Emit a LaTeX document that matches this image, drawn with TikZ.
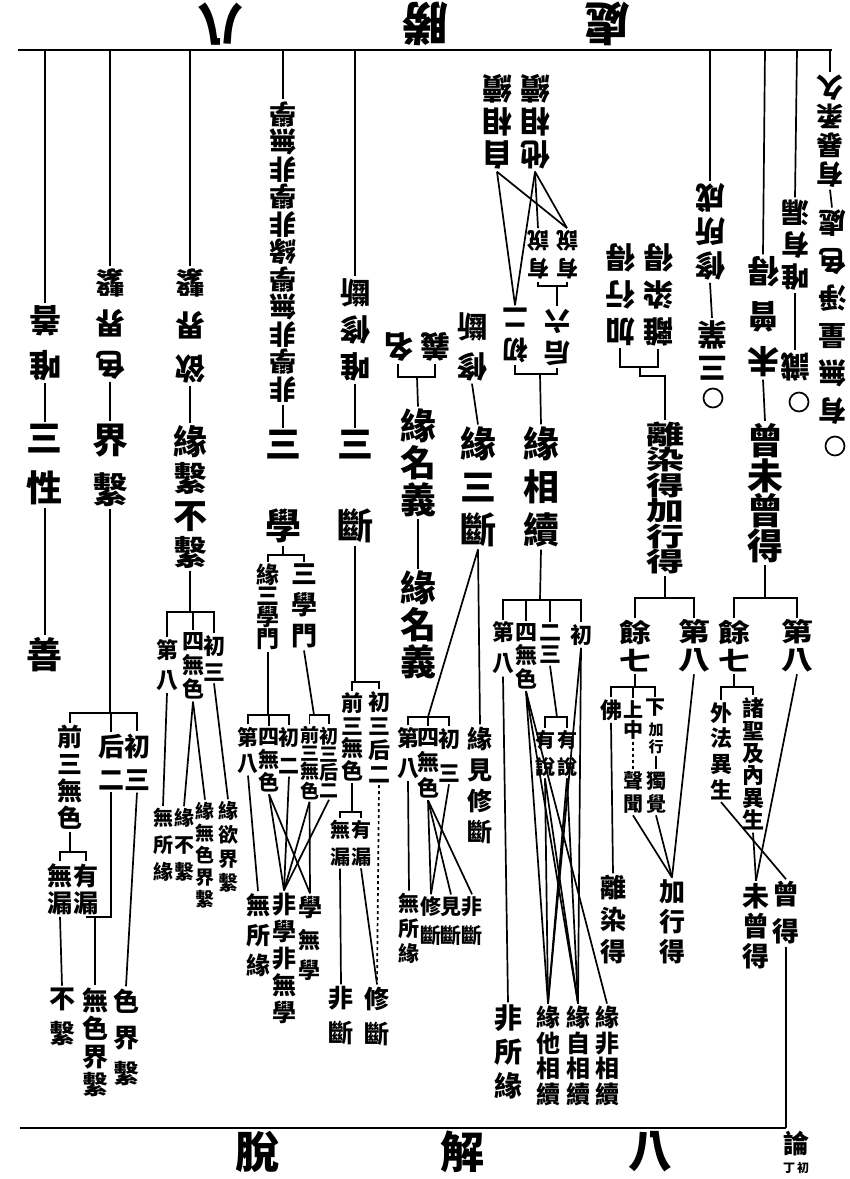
\documentclass[tikz,border=0pt]{standalone}
\usepackage{fontspec}
\newfontfamily\cjk{Noto Sans CJK TC}
\begin{document}
\begin{tikzpicture}[x=1pt,y=-1pt,line width=1.7pt]
\tikzset{
 lab/.style={font=\cjk\bfseries, align=center, inner sep=1.5pt},
 fs/.style 2 args={font={\cjk\bfseries\fontsize{#1}{#2}\selectfont}},
 upd/.style={rotate=180},
 ring/.style={circle, draw, minimum size=19pt, inner sep=0pt},
}
\fill[white] (0,0) rectangle (850,1179);
\useasboundingbox (0,0) rectangle (850,1179);

% title (upside down)
\node[lab,fs={46}{46},upd] (tt1) at (220,24) {八};
\node[lab,fs={46}{46},upd] (tt2) at (425,24) {勝};
\node[lab,fs={46}{46},upd] (tt3) at (607,24) {處};

% top line
\coordinate (TL) at (18,50);
\coordinate (TR) at (832,50);
\draw (TL) -- (TR);

% ---------- A : san xing
\coordinate (tA) at (45,50);
\node[lab,fs={32}{45},upd] (A1) at (45,343) {唯\\善};
\node[lab,fs={36}{50}] (A2) at (45,465) {三\\性};
\node[lab,fs={36}{40}] (A3) at (45,655) {善};
\draw (tA) -- (A1.south);
\draw (A1.north) -- (A2.north);
\draw (A2.south) -- (A3.north);

% ---------- B : jie xi
\coordinate (tB) at (110,50);
\node[lab,fs={30}{41},upd] (B1) at (110,324) {色\\界\\繫};
\node[lab,fs={36}{50}] (B2) at (110,465) {界\\繫};
\draw (tB) -- (B1.south);
\draw (B1.north) -- (B2.north);
\coordinate (jB) at (110,713);
\node[lab,fs={25}{27}] (B3) at (70,777) {前\\三\\無\\色};
\node[lab,fs={26}{33}] (B4) at (111,762) {后\\二};
\node[lab,fs={26}{33}] (B5) at (137,762) {初\\三};
\draw (B2.south) -- (B2.south |- jB);
\draw (B3.north) |- (jB) -| (B5.north);
\draw (B4.north) -- (B4.north |- jB);
\coordinate (jB2) at (70,852);
\node[lab,fs={25}{27}] (B6) at (60,889) {無\\漏};
\node[lab,fs={25}{27}] (B7) at (86,889) {有\\漏};
\draw (B3.south) -- (B3.south |- jB2);
\draw (B6.north) |- (jB2) -| (B7.north);
\node[lab,fs={26}{35}] (B8) at (62,1017) {不\\繫};
\node[lab,fs={26}{28}] (B9) at (95,1042) {無\\色\\界\\繫};
\node[lab,fs={26}{36}] (B10) at (126,1037) {色\\界\\繫};
\draw (B6.south) -- (B8.north);
\draw (B4.south) |- (B7.south);
\draw (B9.north) -- (B9.north |- B7.south);
\draw (B5.south) -- (B10.north);

% ---------- C : yuan xi bu xi
\coordinate (tC) at (190,50);
\node[lab,fs={30}{43},upd] (C1) at (190,326) {欲\\界\\繫};
\node[lab,fs={34}{37}] (C2) at (190,497) {緣\\繫\\不\\繫};
\draw (tC) -- (C1.south);
\draw (C1.north) -- (C2.north);
\coordinate (jC) at (192,612);
\node[lab,fs={22}{30}] (C3) at (167,665) {第\\八};
\node[lab,fs={22}{24}] (C4) at (193,666) {四\\無\\色};
\node[lab,fs={22}{26}] (C5) at (214,658) {初\\三};
\draw (C2.south) -- (C2.south |- jC);
\draw (C3.north) |- (jC) -| (C5.north);
\draw (C4.north) -- (C4.north |- jC);
\node[lab,fs={20}{27}] (C6) at (163,845) {無\\所\\緣};
\node[lab,fs={20}{27}] (C7) at (184,845) {緣\\不\\繫};
\node[lab,fs={19}{22}] (C8) at (205,855) {緣\\無\\色\\界\\繫};
\node[lab,fs={20}{24}] (C9) at (228,847) {緣\\欲\\界\\繫};
\draw (C3.south) -- (C6.north);
\draw (C4.south) -- (C7.north);
\draw (C4.south) -- (C8.north);
\draw (C5.south) -- (C9.north);

% ---------- D : san xue
\coordinate (tD) at (283,50);
\node[lab,fs={27}{27.5},upd] (D1) at (283,252) {非\\學\\非\\無\\學\\緣\\非\\學\\非\\無\\學};
\node[lab,fs={36}{82}] (D2) at (283,487) {三\\學};
\draw (tD) -- (D1.south);
\draw (D1.north) -- (D2.north);
\coordinate (jD) at (283,555);
\node[lab,fs={23}{21}] (D3) at (268,607) {緣\\三\\學\\門};
\node[lab,fs={26}{31}] (D4) at (304,606) {三\\學\\門};
\draw (D2.south) -- (jD);
\draw (D3.north) |- (jD) -| (D4.north);
\coordinate (jD2) at (268,715);
\node[lab,fs={21}{26}] (D5) at (248,750) {第\\八};
\node[lab,fs={21}{23}] (D6) at (269,760) {四\\無\\色};
\node[lab,fs={21}{28}] (D7) at (289,751) {初\\二};
\draw (D3.south) -- (D3.south |- jD2);
\draw (D5.north) |- (jD2) -| (D7.north);
\draw (D6.north) -- (D6.north |- jD2);
\coordinate (jD3) at (314,715);
\node[lab,fs={19}{18}] (D8) at (309.5,763) {前\\三\\無\\色};
\node[lab,fs={19}{18}] (D9) at (329,762) {初\\三\\后\\二};
\draw (D4.south) -- (jD3);
\draw (D8.north) |- (jD3) -| (D9.north);
\node[lab,fs={24}{30}] (D10) at (258,935) {無\\所\\緣};
\node[lab,fs={24}{27}] (D11) at (284,958) {非\\學\\非\\無\\學};
\node[lab,fs={24}{26}] (D12) at (310,907) {學};
\node[lab,fs={22}{30}] (D13) at (309,955) {無\\學};
\draw (D5.south) -- (D10.north);
\draw (D6.south) -- (D11.north);
\draw (D6.south) -- (D12.north);
\draw (D7.south) -- (D11.north);
\draw (D8.south) -- (D11.north);
\draw (D8.south) -- (D12.north);
\draw (D9.south) -- (D11.north);

% ---------- E : san duan
\coordinate (tE) at (355,50);
\node[lab,fs={30}{37},upd] (E1) at (355,330) {唯\\修\\斷};
\node[lab,fs={36}{82}] (E2) at (355,487) {三\\斷};
\draw (tE) -- (E1.south);
\draw (E1.north) -- (E2.north);
\coordinate (jE) at (358,682);
\node[lab,fs={22}{22.5}] (E3) at (352,737) {前\\三\\無\\色};
\node[lab,fs={22}{24}] (E4) at (379,737) {初\\三\\后\\二};
\draw (E2.south) -- (E2.south |- jE);
\draw (E3.north) |- (jE) -| (E4.north);
\coordinate (jE2) at (352,812);
\node[lab,fs={20}{27}] (E5) at (340,843) {無\\漏};
\node[lab,fs={20}{27}] (E6) at (361,843) {有\\漏};
\draw (E3.south) -- (E3.south |- jE2);
\draw (E5.north) |- (jE2) -| (E6.north);
\node[lab,fs={25}{35}] (E7) at (341,1016) {非\\斷};
\node[lab,fs={25}{35}] (E8) at (377,1016) {修\\斷};
\draw (E5.south) -- (E7.north);
\draw (E6.south) -- (E8.north);
\draw[dashed] (E4.south) -- (E8.north);

% ---------- F : yuan ming yi
\node[lab,fs={30}{30},upd] (F1) at (398,347) {名};
\node[lab,fs={30}{30},upd] (F2) at (435,347) {義};
\coordinate (jF) at (417,377);
\draw (F1.north) |- (jF) -| (F2.north);
\node[lab,fs={36}{37}] (F3) at (418,463) {緣\\名\\義};
\node[lab,fs={36}{37}] (F4) at (418,625) {緣\\名\\義};
\draw (jF) -- (F3.north);
\draw (F3.south) -- (F4.north);

% ---------- G : yuan san duan
\node[lab,fs={30}{40},upd] (G1) at (472,347) {修\\斷};
\node[lab,fs={36}{43}] (G2) at (478,487) {緣\\三\\斷};
\draw (G1.north) -- (G2.north);
\coordinate (jG) at (428,717);
\node[lab,fs={22}{30}] (G3) at (408,753) {第\\八};
\node[lab,fs={22}{25.5}] (G4) at (428,763) {四\\無\\色};
\node[lab,fs={22}{34}] (G5) at (449,755) {初\\三};
\node[lab,fs={25}{31}] (G6) at (480,785) {緣\\見\\修\\斷};
\draw (G2.south) -- (G6.north);
\draw (G2.south) -- (jG);
\draw (G3.north) |- (jG) -| (G5.north);
\draw (G4.north) -- (jG);
\node[lab,fs={21}{25}] (G7) at (409,928) {無\\所\\緣};
\node[lab,fs={21}{29}] (G8) at (431,921) {修\\斷};
\node[lab,fs={21}{29}] (G9) at (451,921) {見\\斷};
\node[lab,fs={21}{29}] (G10) at (472,921) {非\\斷};
\draw (G3.south) -- (G7.north);
\draw (G4.south) -- (G8.north);
\draw (G4.south) -- (G9.north);
\draw (G4.south) -- (G10.north);
\draw (G5.south) -- (G8.north);

% ---------- H : yuan xiang xu
\node[lab,fs={30}{33},upd] (H1) at (497,122) {自\\相\\續};
\node[lab,fs={30}{33},upd] (H2) at (535,122) {他\\相\\續};
\node[lab,fs={22}{28},upd] (H3) at (538,255) {有\\說};
\node[lab,fs={22}{28},upd] (H4) at (567,255) {有\\說};
\node[lab,fs={26}{32},upd] (H5) at (515,335) {初\\二};
\node[lab,fs={26}{32},upd] (H6) at (557,337) {后\\六};
\draw (H1.north) -- (H5.south);
\draw (H1.north) -- (H4.south);
\draw (H2.north) -- (H5.south);
\draw (H2.north) -- (H3.south);
\draw (H2.north) -- (H4.south);
\coordinate (jH0) at (557,286);
\draw (H3.north) |- (jH0) -| (H4.north);
\draw (jH0) -- (H6.south);
\coordinate (jH) at (540,374);
\draw (H5.north) |- (jH) -| (H6.north);
\node[lab,fs={36}{43}] (H7) at (541,487) {緣\\相\\續};
\draw (jH) -- (H7.north);
\coordinate (jH2) at (540,600);
\node[lab,fs={22}{31}] (H8) at (503,648) {第\\八};
\node[lab,fs={22}{23.5}] (H9) at (526,656) {四\\無\\色};
\node[lab,fs={22}{22}] (H10) at (550,644) {二\\三};
\node[lab,fs={22}{22}] (H11) at (581,635) {初};
\draw (H7.south) -- (jH2);
\draw (H8.north) |- (jH2) -| (H11.north);
\draw (H9.north) -- (H9.north |- jH2);
\draw (H10.north) -- (H10.north |- jH2);
\coordinate (jH3) at (557,717);
\node[lab,fs={20}{27}] (H12) at (545,753) {有\\說};
\node[lab,fs={20}{27}] (H13) at (567,753) {有\\說};
\draw (H10.south) -- (jH3);
\draw (H12.north) |- (jH3) -| (H13.north);
\node[lab,fs={28}{34}] (H14) at (508,1052) {非\\所\\緣};
\node[lab,fs={24}{25.7}] (H15) at (548,1056) {緣\\他\\相\\續};
\node[lab,fs={24}{25.7}] (H16) at (578,1056) {緣\\自\\相\\續};
\node[lab,fs={24}{25.7}] (H17) at (607,1056) {緣\\非\\相\\續};
\draw (H8.south) -- (H14.north);
\draw (H9.south) -- (H15.north);
\draw (H9.south) -- (H16.north);
\draw (H9.south) -- (H17.north);
\draw (H12.south) -- (H15.north);
\draw (H12.south) -- (H16.north);
\draw (H13.south) -- (H15.north);
\draw (H13.south) -- (H16.north);
\draw (H11.south) -- (H16.north);
\draw (H11.south) -- (H15.north);

% ---------- I : li ran de / jia xing de
\node[lab,fs={30}{37},upd] (I1) at (620,295) {加\\行\\得};
\node[lab,fs={30}{37},upd] (I2) at (658,295) {離\\染\\得};
\coordinate (jI) at (640,367);
\draw (I1.north) |- (jI) -| (I2.north);
\coordinate (jI1) at (640,376);
\node[lab,fs={38}{34},yscale=0.69] (I3) at (665,498) {離\\染\\得\\加\\行\\得};
\draw (jI) -- (jI1) -| (I3.north);
\coordinate (jI3) at (665,598);
\node[lab,fs={32}{35},yscale=0.8] (I4) at (635,646) {餘\\七};
\node[lab,fs={32}{35},yscale=0.8] (I5) at (694,646) {第\\八};
\draw (I3.south) -- (jI3);
\draw (I4.north) |- (jI3) -| (I5.north);
\coordinate (jI4) at (635,687);
\node[lab,fs={22}{22}] (I6) at (611,710) {佛};
\node[lab,fs={20}{20}] (I7) at (633,720) {上\\中};
\node[lab,fs={20}{20}] (I8) at (655,708) {下};
\node[lab,fs={15}{17}] (I9) at (656,738) {加\\行};
\node[lab,fs={20}{23}] (I10) at (633,792) {聲\\聞};
\node[lab,fs={20}{23}] (I11) at (656,792) {獨\\覺};
\draw (I4.south) -- (jI4);
\draw (I6.north) |- (jI4) -| (I8.north);
\draw (I7.north) -- (I7.north |- jI4);
\draw[dashed] (I7.south) -- (I10.north);
\draw (I9.south) -- (I11.north);
\node[lab,fs={26}{32}] (I12) at (613,920) {離\\染\\得};
\node[lab,fs={26}{30}] (I13) at (672,922) {加\\行\\得};
\draw (I6.south) -- (I12.north);
\draw (I10.south) -- (I13.north);
\draw (I11.south) -- (I13.north);
\draw (I5.south) -- (I13.north);

% ---------- J : ceng wei ceng de
\coordinate (tJ) at (765,50);
\node[lab,fs={32}{45},upd] (J1) at (763,317) {未\\曾\\得};
\node[lab,fs={36}{35}] (J2) at (765,493) {曾\\未\\曾\\得};
\draw (tJ) -- (J1.south);
\draw (J1.north) -- (J2.north);
\coordinate (jJ) at (765,598);
\node[lab,fs={32}{35},yscale=0.8] (J3) at (734,646) {餘\\七};
\node[lab,fs={32}{35},yscale=0.8] (J4) at (797,646) {第\\八};
\draw (J2.south) -- (jJ);
\draw (J3.north) |- (jJ) -| (J4.north);
\coordinate (jJ2) at (737,687);
\node[lab,fs={22}{25.7}] (J5) at (721,751) {外\\法\\異\\生};
\node[lab,fs={22}{22.4}] (J6) at (753,764) {諸\\聖\\及\\內\\異\\生};
\draw (J3.south) -- (J3.south |- jJ2);
\draw (J5.north) |- (jJ2) -| (J6.north);
\node[lab,fs={27}{30}] (J7) at (756,926) {未\\曾\\得};
\node[lab,fs={27}{37}] (J8) at (786,913) {曾\\得};
\draw (J5.south) -- (J8.north);
\draw (J6.south) -- (J7.north);
\draw (J4.south) -- (J7.north);

% ---------- right columns (upside down)
\coordinate (tK) at (710,50);
\node[lab,fs={30}{34},upd] (K1) at (710,232) {修\\所\\成};
\node[lab,fs={30}{34},upd] (K2) at (712,350) {三\\業};
\node[ring] (K3) at (713,398) {};
\draw (tK) -- (K1.south);
\draw (K1.north) -- (K2.south);
\coordinate (tL) at (797,50);
\node[lab,fs={28}{32},upd] (L1) at (795,245) {唯\\有\\漏};
\node[lab,fs={30}{32},upd] (L2) at (795,367) {識};
\node[ring] (L3) at (799,402) {};
\draw (tL) -- (L1.south);
\draw (L1.north) -- (L2.south);
\coordinate (tM) at (830,50);
\node[lab,fs={27}{29},upd] (M1) at (830,131) {有\\暴\\柔\\久};
\node[lab,fs={28}{37.5},upd] (M2) at (832,317) {有\\無\\量\\淨\\色\\處};
\node[ring] (M3) at (835,446) {};
\draw (tM) -- (M1.south);
\draw (M1.north) -- (M2.south);

% ---------- bottom
\coordinate (BL) at (20,1128);
\draw (BL) -- (J8.south |- BL);
\draw (J8.south) -- (J8.south |- BL);
\node[lab,fs={44}{44}] (b1) at (650,1152) {八};
\node[lab,fs={44}{44}] (b2) at (462,1152) {解};
\node[lab,fs={44}{44}] (b3) at (257,1152) {脫};
\node[lab,fs={26}{26}] (b4) at (796,1143) {論};
\node[lab,fs={12}{12}] (b5) at (803,1168) {初};
\node[lab,fs={12}{12}] (b6) at (789,1168) {丁};
\end{tikzpicture}
\end{document}
